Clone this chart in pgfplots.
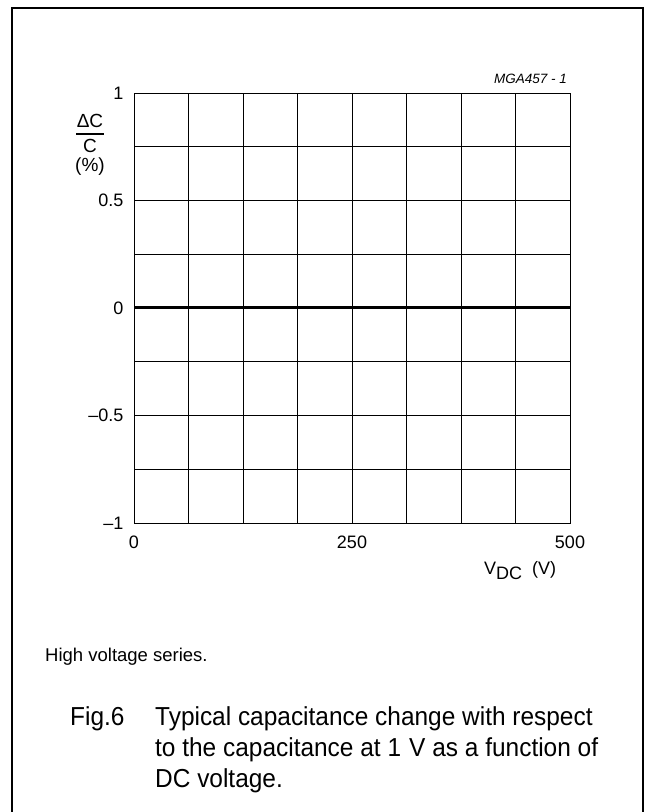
\documentclass[border=0pt]{standalone}
\usepackage{fontspec}
\setmainfont{Liberation Sans}
\usepackage{pgfplots}
\pgfplotsset{compat=1.18}
\newcommand{\capfont}{\fontsize{26}{31}\selectfont}
\begin{document}
\begin{tikzpicture}[x=1pt,y=1pt]
\useasboundingbox (0,0) rectangle (655,812);
\draw[line width=1.6pt] (12,-2) -- (12,804) -- (643,804) -- (643,-2);
\begin{axis}[
  at={(134pt,289pt)}, anchor=south west,
  scale only axis, width=436pt, height=430pt,
  xmin=0, xmax=500, ymin=-1, ymax=1,
  xtick={0,250,500}, minor xtick={62.5,125,187.5,312.5,375,437.5},
  ytick={-1,-0.5,0,0.5,1}, minor ytick={-0.75,-0.25,0.25,0.75},
  yticklabels={–1,–0.5,0,0.5,1},
  xticklabels={0,250,500},
  grid=both,
  major grid style={black, line width=0.8pt},
  minor grid style={black, line width=0.8pt},
  axis line style={black, line width=0.8pt},
  major tick length=0pt, minor tick length=0pt,
  tick label style={font=\fontsize{18}{21}\selectfont},
  xticklabel style={yshift=-9pt},
  yticklabel style={xshift=-7pt},
  clip=false,
]
\addplot[black, line width=3pt] coordinates {(0,0) (500,0)};
\end{axis}
% y label
\begin{scope}[every node/.style={font=\fontsize{19}{22}\selectfont, inner sep=0pt, anchor=base}]
\node at (90,684) {ΔC};
\draw[line width=1.3pt] (76,678) -- (104,678);
\node at (90,659) {C};
\node at (90,640) {(\%)};
\end{scope}
% x label
\node[font=\fontsize{18}{21}\selectfont, anchor=base west, inner sep=0pt] at (484,237) {V\raisebox{-5pt}{DC}\hspace{10pt}(V)};
% code
\node[font=\fontsize{13.5}{15}\selectfont\itshape, anchor=base east, inner sep=0pt] at (567,728) {MGA457 - 1};
% note
\node[font=\fontsize{18.5}{21}\selectfont, anchor=base west, inner sep=0pt] at (45,150) {High voltage series.};
% caption
\begin{scope}[every node/.style={font=\capfont, anchor=base west, inner sep=0pt}]
\node at (70,86) {\scalebox{0.94}[1]{Fig.6}};
\node at (155,86) {\scalebox{0.94}[1]{Typical capacitance change with respect}};
\node at (155,55) {\scalebox{0.94}[1]{to the capacitance at 1\,\,V as a function of}};
\node at (155,24) {\scalebox{0.94}[1]{DC voltage.}};
\end{scope}
\end{tikzpicture}
\end{document}
